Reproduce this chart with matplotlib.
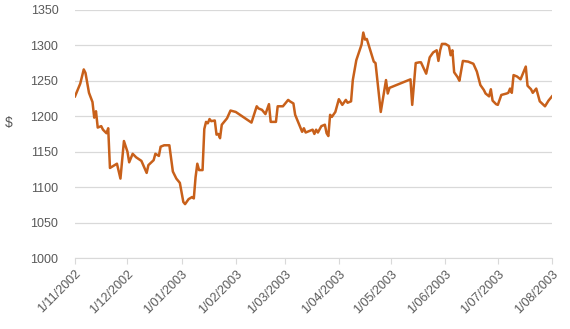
import pandas as pd
import matplotlib
matplotlib.use("Agg")
import matplotlib.pyplot as plt

# price series (dd/mm/yyyy style dates, values in $)
dates = [
    "2002-11-01", "2002-11-04", "2002-11-06", "2002-11-07", "2002-11-09", "2002-11-11",
    "2002-11-12", "2002-11-13", "2002-11-14", "2002-11-16", "2002-11-17", "2002-11-19",
    "2002-11-20", "2002-11-21", "2002-11-23", "2002-11-25", "2002-11-27", "2002-11-29",
    "2002-12-01", "2002-12-02", "2002-12-04", "2002-12-06", "2002-12-09", "2002-12-12",
    "2002-12-13", "2002-12-16", "2002-12-17", "2002-12-19", "2002-12-20", "2002-12-22",
    "2002-12-25", "2002-12-27", "2002-12-29", "2002-12-31",
    "2003-01-02", "2003-01-03", "2003-01-05", "2003-01-07", "2003-01-08", "2003-01-09",
    "2003-01-10", "2003-01-11", "2003-01-13", "2003-01-14", "2003-01-15", "2003-01-16",
    "2003-01-17", "2003-01-18", "2003-01-20", "2003-01-21", "2003-01-22", "2003-01-23",
    "2003-01-24", "2003-01-27", "2003-01-29",
    "2003-02-01", "2003-02-10", "2003-02-13", "2003-02-14", "2003-02-16", "2003-02-18",
    "2003-02-20", "2003-02-21", "2003-02-24", "2003-02-25", "2003-02-28",
    "2003-03-03", "2003-03-04", "2003-03-06", "2003-03-07", "2003-03-11", "2003-03-12",
    "2003-03-13", "2003-03-15", "2003-03-17", "2003-03-18", "2003-03-19", "2003-03-20",
    "2003-03-22", "2003-03-24", "2003-03-25", "2003-03-26", "2003-03-27", "2003-03-28",
    "2003-03-30",
    "2003-04-01", "2003-04-03", "2003-04-05", "2003-04-06", "2003-04-08", "2003-04-09",
    "2003-04-11", "2003-04-14", "2003-04-15", "2003-04-16", "2003-04-17", "2003-04-21",
    "2003-04-22", "2003-04-25", "2003-04-28", "2003-04-29", "2003-04-30",
    "2003-05-12", "2003-05-13", "2003-05-15", "2003-05-17", "2003-05-18", "2003-05-21",
    "2003-05-23", "2003-05-25", "2003-05-27", "2003-05-28", "2003-05-29", "2003-05-30",
    "2003-06-01", "2003-06-03", "2003-06-04", "2003-06-05", "2003-06-06", "2003-06-08",
    "2003-06-09", "2003-06-11", "2003-06-14", "2003-06-17", "2003-06-19", "2003-06-21",
    "2003-06-23", "2003-06-24", "2003-06-26", "2003-06-27", "2003-06-28", "2003-06-30",
    "2003-07-01", "2003-07-03", "2003-07-06", "2003-07-07", "2003-07-08", "2003-07-09",
    "2003-07-10", "2003-07-12", "2003-07-14", "2003-07-17", "2003-07-18", "2003-07-20",
    "2003-07-21", "2003-07-23", "2003-07-25", "2003-07-28", "2003-07-30",
    "2003-08-01",
]
prices = [
    1228, 1246, 1266, 1261, 1233, 1220,
    1198, 1207, 1184, 1186, 1181, 1176,
    1183, 1127, 1130, 1133, 1112, 1165,
    1150, 1135, 1147, 1142, 1137, 1120,
    1131, 1138, 1147, 1144, 1157, 1159,
    1159, 1122, 1112, 1106,
    1079, 1076, 1083, 1086, 1084, 1114,
    1133, 1124, 1124, 1182, 1192, 1190,
    1196, 1193, 1194, 1174, 1175, 1169,
    1188, 1197, 1208,
    1206, 1191, 1214, 1211, 1209, 1203,
    1217, 1192, 1192, 1214, 1214,
    1223, 1221, 1218, 1202, 1178, 1183,
    1177, 1179, 1181, 1175, 1181, 1177,
    1186, 1188, 1176, 1172, 1202, 1199,
    1206,
    1224, 1216, 1223, 1219, 1221, 1251,
    1279, 1301, 1318, 1308, 1309, 1277,
    1275, 1206, 1251, 1232, 1240,
    1252, 1216, 1275, 1276, 1276, 1260,
    1283, 1290, 1293, 1278, 1293, 1302,
    1302, 1299, 1286, 1293, 1262, 1255,
    1250, 1278, 1277, 1274, 1263, 1244,
    1237, 1232, 1228, 1238, 1222, 1217,
    1216, 1230, 1232, 1233, 1239, 1233,
    1258, 1256, 1252, 1270, 1243, 1238,
    1233, 1239, 1221, 1214, 1222,
    1228,
]

tick_dates = ["2002-11-01", "2002-12-01", "2003-01-01", "2003-02-01", "2003-03-01",
              "2003-04-01", "2003-05-01", "2003-06-01", "2003-07-01", "2003-08-01"]
tick_labels = ["1/11/2002", "1/12/2002", "1/01/2003", "1/02/2003", "1/03/2003",
               "1/04/2003", "1/05/2003", "1/06/2003", "1/07/2003", "1/08/2003"]
y_ticks = [1000, 1050, 1100, 1150, 1200, 1250, 1300, 1350]

plt.rcParams['font.family'] = ['Liberation Sans', 'DejaVu Sans']
text_color = '#595959'
grid_color = '#d9d9d9'

x = pd.to_datetime(dates)
ticks = pd.to_datetime(tick_dates)

fig = plt.figure(figsize=(5.7, 3.29), dpi=100)
ax = fig.add_axes([0.1316, 0.2158, 0.8368, 0.7542])

ax.plot(x, prices, color='#c8601a', linewidth=1.8, solid_joinstyle='round')

ax.set_ylim(1000, 1350)
ax.set_yticks(y_ticks)
ax.set_xlim(ticks[0], ticks[-1])
ax.set_xticks(ticks)
ax.set_xticklabels(tick_labels, rotation=45, ha='right', rotation_mode='anchor')

ax.grid(axis='y', color=grid_color, linewidth=0.9)
ax.set_axisbelow(True)
for s in ['top', 'right', 'left']:
    ax.spines[s].set_visible(False)
ax.spines['bottom'].set_color(grid_color)
ax.tick_params(axis='y', length=0, pad=12, labelsize=9, labelcolor=text_color)
ax.tick_params(axis='x', length=4, color=grid_color, pad=3, labelsize=9, labelcolor=text_color)

ax.set_ylabel('$', rotation=0, color=text_color, fontsize=10, va='center')
ax.yaxis.set_label_coords(-0.14, 0.545)

fig.savefig('out.png', dpi=100)
